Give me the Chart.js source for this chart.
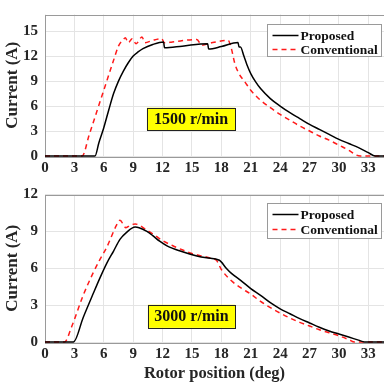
<!DOCTYPE html>
<html><head><meta charset="utf-8">
<script src="https://cdn.jsdelivr.net/npm/chart.js@4.4.1/dist/chart.umd.min.js"></script>
<style>
html,body{margin:0;padding:0;background:#fff;}
#wrap{position:relative;width:384px;height:388px;overflow:hidden;background:#fff;}
#c1{position:absolute;left:0;top:0;width:384px;height:180px;}
#c2{position:absolute;left:0;top:180px;width:384px;height:208px;}
</style></head><body>
<div id="wrap"><canvas id="c1" width="384" height="180"></canvas><canvas id="c2" width="384" height="208"></canvas></div>
<script>
// ---- data ----
const xTicks = [0,3,6,9,12,15,18,21,24,27,30,33];
const yTicksTop = [0,3,6,9,12,15];
const yTicksBottom = [0,3,6,9,12];
const seriesNames = ['Proposed','Conventional'];
const speedLabels = ['1500 r/min','3000 r/min'];
const xTitle = 'Rotor position (deg)';
const yTitle = 'Current (A)';

// 1500 r/min, proposed
const posProp1500 = [0,5.1,5.5,6,6.5,7,7.5,8,8.5,9,9.5,10,11,12.1,12.2,14,16.6,16.7,18,19.7,19.8,19.95,20.3,20.6,21,21.5,22,23,24,25,26,27,28,29,30,31,32,33,33.7,34.6];
const curProp1500 = [0,0,1.6,3.4,5.5,7.5,9.0,10.2,11.2,12.0,12.5,12.9,13.4,13.7,13.0,13.2,13.5,12.85,13.15,13.65,13.1,13.1,12.0,11.0,9.9,8.9,8.1,6.9,6.0,5.2,4.5,3.8,3.2,2.6,2.0,1.5,1.0,0.4,0,0];
// 1500 r/min, conventional
const posConv1500 = [0,3.8,4.5,5,6,7,7.5,8.0,8.2,8.5,8.9,9.3,9.9,10.2,11,11.9,12.2,13,15.5,16.0,17,18.7,19.0,19.4,19.8,20.4,21,22,23,24,25,26,27,28,29,30,31,31.8,32.2,34.6];
const curConv1500 = [0,0,2.5,4.3,7.9,11.5,13.2,14.0,14.2,13.6,14.1,13.5,14.3,13.6,13.9,14.1,13.6,13.7,14.0,13.3,13.6,13.9,13.0,11.0,9.9,8.9,7.9,6.7,5.8,5.0,4.3,3.6,3.0,2.4,1.9,1.3,0.7,0.1,0,0];
// 3000 r/min, proposed
const posProp3000 = [0,2.9,3.9,4.9,5.6,6.3,7,7.65,8.3,9.2,9.6,10.4,11,11.7,12.5,13.8,15.5,16.5,17.8,18.5,19,20,21,22,23,24,25,26,27,28,29,30,31,32,32.6,34.6];
const curProp3000 = [0,0,2.0,3.9,5.2,6.4,7.4,8.35,8.9,9.35,9.3,9.0,8.65,8.2,7.8,7.4,7.0,6.85,6.65,6.0,5.6,5.0,4.35,3.8,3.2,2.7,2.3,1.9,1.55,1.2,0.9,0.65,0.4,0.15,0,0];
// 3000 r/min, conventional
const posConv3000 = [0,2.0,2.7,3.9,4.9,5.6,6.3,7.3,7.65,8.26,8.7,9.2,10.4,11,12,13,14,15,16,17,17.5,18,19,20,21,22,23,24,25,26,27,28,29,30,31,31.6,34.6];
const curConv3000 = [0,0,1.2,3.8,5.6,6.7,7.7,9.5,9.9,9.3,9.5,9.6,9.1,8.8,8.25,7.85,7.5,7.2,7.0,6.8,6.65,5.9,5.0,4.4,3.9,3.3,2.8,2.35,1.95,1.6,1.3,1.0,0.75,0.5,0.2,0,0];

// ---- helpers ----
const FONT = '"Liberation Serif", "Times New Roman", serif';
const TXT = '#262626';
function pts(xs, ys){ return xs.map((x,i)=>({x:x, y:ys[i]})); }

const framePlugin = {
  id:'frame',
  beforeDatasetsDraw(chart){
    const a = chart.chartArea, ctx = chart.ctx;
    ctx.save(); ctx.strokeStyle = '#9a9a9a'; ctx.lineWidth = 1;
    ctx.strokeRect(Math.round(a.left)+0.5, Math.round(a.top)+0.5, Math.round(a.right-a.left)+2, Math.round(a.bottom-a.top));
    ctx.restore();
  }
};
const speedPlugin = {
  id:'speedBox',
  afterDatasetsDraw(chart, args, o){
    const xs = chart.scales.x, ys = chart.scales.y, ctx = chart.ctx;
    const l = xs.getPixelForValue(o.x0), r = xs.getPixelForValue(o.x1);
    const t = ys.getPixelForValue(o.y1), b = ys.getPixelForValue(o.y0);
    ctx.save();
    ctx.fillStyle = '#ffff00'; ctx.fillRect(l, t, r-l, b-t);
    ctx.strokeStyle = '#222'; ctx.lineWidth = 1; ctx.strokeRect(Math.round(l)+0.5, Math.round(t)+0.5, Math.round(r-l), Math.round(b-t));
    ctx.fillStyle = '#111'; ctx.font = 'bold 16px ' + FONT; ctx.textAlign='center'; ctx.textBaseline='middle';
    ctx.fillText(o.text, (l+r)/2, (t+b)/2+1);
    ctx.restore();
  }
};
const legendPlugin = {
  id:'boxLegend',
  afterDraw(chart, args, o){
    const a = chart.chartArea, ctx = chart.ctx;
    const x0 = Math.round(a.right - 117)+0.5, y0 = Math.round(a.top + o.dy)+0.5, w = 114, h = o.h;
    ctx.save();
    ctx.fillStyle = '#fff'; ctx.fillRect(x0, y0, w, h);
    ctx.strokeStyle = '#9a9a9a'; ctx.lineWidth = 1; ctx.strokeRect(x0, y0, w, h);
    chart.data.datasets.forEach((ds,i)=>{
      const yy = y0 + o.r0 + i*o.rs;
      ctx.strokeStyle = ds.borderColor; ctx.lineWidth = ds.borderWidth; ctx.setLineDash(ds.borderDash || []);
      ctx.beginPath(); ctx.moveTo(x0+5, yy); ctx.lineTo(x0+31, yy); ctx.stroke();
      ctx.setLineDash([]);
      ctx.fillStyle = '#111'; ctx.font = 'bold 13.5px ' + FONT; ctx.textAlign='left'; ctx.textBaseline='middle';
      ctx.fillText(ds.label, x0+33, yy+1);
    });
    ctx.restore();
  }
};

function makeChart(id, datasets, yMax, yTicks, xAxisH, padTop, showXTitle, speed, leg){
  return new Chart(document.getElementById(id), {
    type:'line',
    data:{datasets:datasets},
    options:{
      responsive:false, animation:false, devicePixelRatio:1,
      layout:{padding:{top:padTop,left:0,right:0,bottom:0}},
      elements:{point:{radius:0}, line:{tension:0.3}},
      plugins:{legend:{display:false}, tooltip:{enabled:false},
        speedBox:speed, boxLegend:leg},
      scales:{
        x:{type:'linear', min:0, max:34.6,
          afterBuildTicks:(ax)=>{ ax.ticks = xTicks.map(v=>({value:v})); },
          afterFit:(ax)=>{ ax.height = xAxisH; },
          grid:{color:'#e4e4e4', drawTicks:false, lineWidth:1},
          border:{display:false},
          ticks:{color:TXT, font:{family:FONT, size:15, weight:'bold', lineHeight:1}, padding:5, maxRotation:0, autoSkip:false},
          title:{display:showXTitle, text:xTitle, color:TXT, font:{family:FONT, size:16.5, weight:'bold', lineHeight:1.2}, padding:{top:2,bottom:4}}
        },
        y:{type:'linear', min:0, max:yMax,
          afterBuildTicks:(ax)=>{ ax.ticks = yTicks.map(v=>({value:v})); },
          afterFit:(ax)=>{ ax.width = 45; },
          grid:{color:'#e4e4e4', drawTicks:false, lineWidth:1},
          border:{display:false},
          ticks:{color:TXT, font:{family:FONT, size:15, weight:'bold', lineHeight:1}, padding:7},
          title:{display:true, text:yTitle, color:TXT, font:{family:FONT, size:17, weight:'bold', lineHeight:1.2}, padding:{top:2,bottom:0}}
        }
      }
    },
    plugins:[framePlugin, speedPlugin, legendPlugin]
  });
}

function ds(name, xs, ys, conv){
  return {label:name, data:pts(xs,ys), borderColor: conv ? '#ff1a1a' : '#000000',
    borderWidth:1.5, borderDash: conv ? [5,4] : [], fill:false, clip:3, tension:0.2,
    cubicInterpolationMode:'monotone'};
}

makeChart('c1', [ds(seriesNames[0], posProp1500, curProp1500, false), ds(seriesNames[1], posConv1500, curConv1500, true)],
  17, yTicksTop, 24, 3, false,
  {x0:10.4, x1:19.4, y0:3.1, y1:5.8, text:speedLabels[0]},
  {dy:9, h:32, r0:11, rs:14});
makeChart('c2', [ds(seriesNames[0], posProp3000, curProp3000, false), ds(seriesNames[1], posConv3000, curConv3000, true)],
  12, yTicksBottom, 46, 8, true,
  {x0:10.5, x1:19.4, y0:1.15, y1:3.03, text:speedLabels[1]},
  {dy:8, h:35, r0:11, rs:15});
</script>
</body></html>
